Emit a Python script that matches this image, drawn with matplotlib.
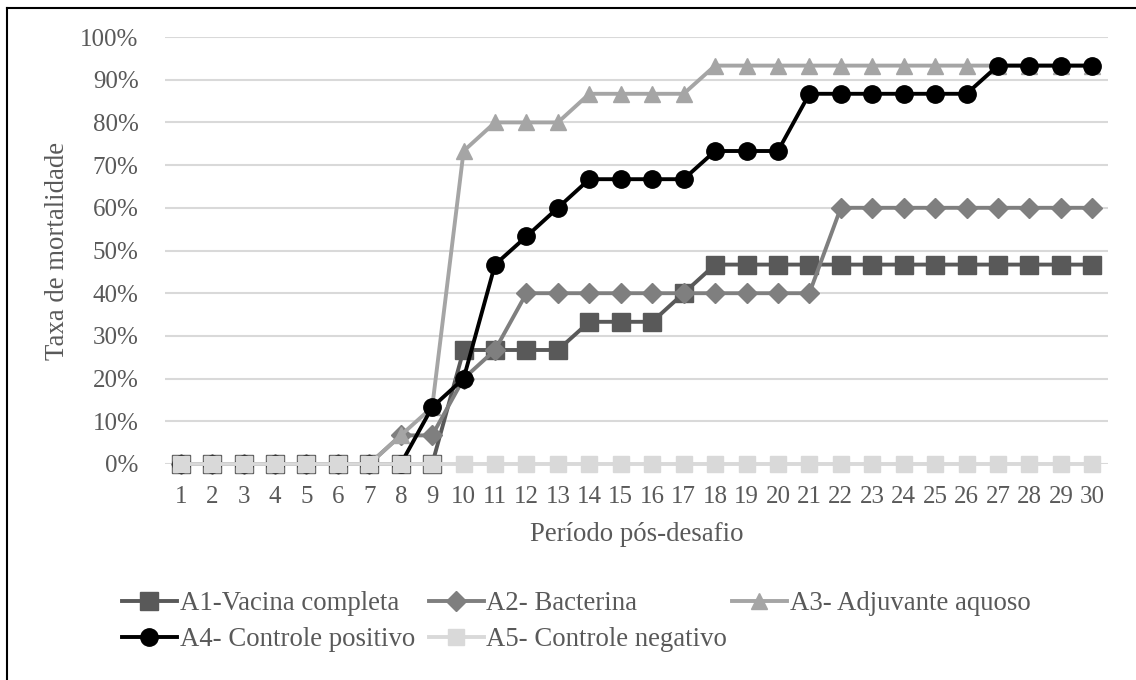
import matplotlib
matplotlib.use("Agg")
import matplotlib.pyplot as plt
from matplotlib.lines import Line2D
from matplotlib.ticker import PercentFormatter

plt.rcParams['font.family'] = ['Liberation Serif', 'DejaVu Serif']

# Days after challenge and cumulative mortality per group
days = list(range(1, 31))
a1_vacina = [0, 0, 0, 0, 0, 0, 0, 0, 0, 0.267, 0.267, 0.267, 0.267, 0.333, 0.333,
             0.333, 0.4, 0.467, 0.467, 0.467, 0.467, 0.467, 0.467, 0.467, 0.467,
             0.467, 0.467, 0.467, 0.467, 0.467]
a2_bacterina = [0, 0, 0, 0, 0, 0, 0, 0.067, 0.067, 0.2, 0.267, 0.4, 0.4, 0.4, 0.4,
                0.4, 0.4, 0.4, 0.4, 0.4, 0.4, 0.6, 0.6, 0.6, 0.6, 0.6, 0.6, 0.6,
                0.6, 0.6]
a3_adjuvante = [0, 0, 0, 0, 0, 0, 0, 0.067, 0.133, 0.733, 0.8, 0.8, 0.8, 0.867,
                0.867, 0.867, 0.867, 0.933, 0.933, 0.933, 0.933, 0.933, 0.933,
                0.933, 0.933, 0.933, 0.933, 0.933, 0.933, 0.933]
a4_positivo = [0, 0, 0, 0, 0, 0, 0, 0, 0.133, 0.2, 0.467, 0.533, 0.6, 0.667, 0.667,
               0.667, 0.667, 0.733, 0.733, 0.733, 0.867, 0.867, 0.867, 0.867,
               0.867, 0.867, 0.933, 0.933, 0.933, 0.933]
a5_negativo = [0] * 30

labels = ["A1-Vacina completa", "A2- Bacterina", "A3- Adjuvante aquoso",
          "A4- Controle positivo", "A5- Controle negativo"]
series = [a1_vacina, a2_bacterina, a3_adjuvante, a4_positivo, a5_negativo]
colors = ["#595959", "#7f7f7f", "#a5a5a5", "#000000", "#d9d9d9"]
markers = ["s", "D", "^", "o", "s"]
msizes = [12.5, 10, 12, 12.5, 12]

text_color = "#595959"
tick_fs = 18
label_fs = 19.3

fig = plt.figure(figsize=(11.36, 6.8), dpi=100)
ax = fig.add_axes([165 / 1136, 1 - 464 / 680, (1108 - 165) / 1136, (464 - 37) / 680])

handles = []
for i, (vals, lab, c, m, ms) in enumerate(zip(series, labels, colors, markers, msizes)):
    h, = ax.plot(days, vals, color=c, lw=2.8, marker=m, ms=ms,
                 markerfacecolor=c, markeredgecolor=c, label=lab,
                 clip_on=False, zorder=3 + i)
    handles.append(h)

ax.set_xlim(0.5, 30.5)
ax.set_ylim(0, 1)
ax.set_xticks(days)
ax.set_yticks([i / 10 for i in range(11)])
ax.yaxis.set_major_formatter(PercentFormatter(1.0, decimals=0))
ax.grid(axis='y', color="#d9d9d9", lw=1.5)
ax.set_axisbelow(True)
for s in ax.spines.values():
    s.set_visible(False)
ax.tick_params(axis='both', length=0, labelsize=tick_fs, labelcolor=text_color)
ax.tick_params(axis='y', pad=19)
ax.tick_params(axis='x', pad=16)

ax.set_ylabel("Taxa de mortalidade", fontsize=label_fs, color=text_color, va='center')
ax.yaxis.set_label_coords((58 - 165) / 943, 0.5)
ax.set_xlabel("Período pós-desafio", fontsize=label_fs, color=text_color, va='center')
ax.xaxis.set_label_coords(0.5, -0.166)

leg_kw = dict(frameon=False, fontsize=label_fs, handlelength=2.05, handletextpad=0.1,
              labelspacing=0.42, borderpad=0, borderaxespad=0, labelcolor=text_color)
leg1 = fig.legend([handles[0], handles[3], handles[1], handles[4]],
                  [labels[0], labels[3], labels[1], labels[4]],
                  ncol=2, columnspacing=0.52, loc='upper left',
                  bbox_to_anchor=(122 / 1136, 1 - 591 / 680), **leg_kw)
leg2 = fig.legend([handles[2]], [labels[2]], loc='upper left',
                  bbox_to_anchor=(732 / 1136, 1 - 591 / 680), **leg_kw)

# Frame lines on the left and top edges
fig.add_artist(Line2D([7 / 1136, 7 / 1136], [0, 1 - 8 / 680],
                      transform=fig.transFigure, color='black', lw=1.5))
fig.add_artist(Line2D([7 / 1136, 1], [1 - 8 / 680, 1 - 8 / 680],
                      transform=fig.transFigure, color='black', lw=1.5))

fig.savefig("out.png", dpi=100)
